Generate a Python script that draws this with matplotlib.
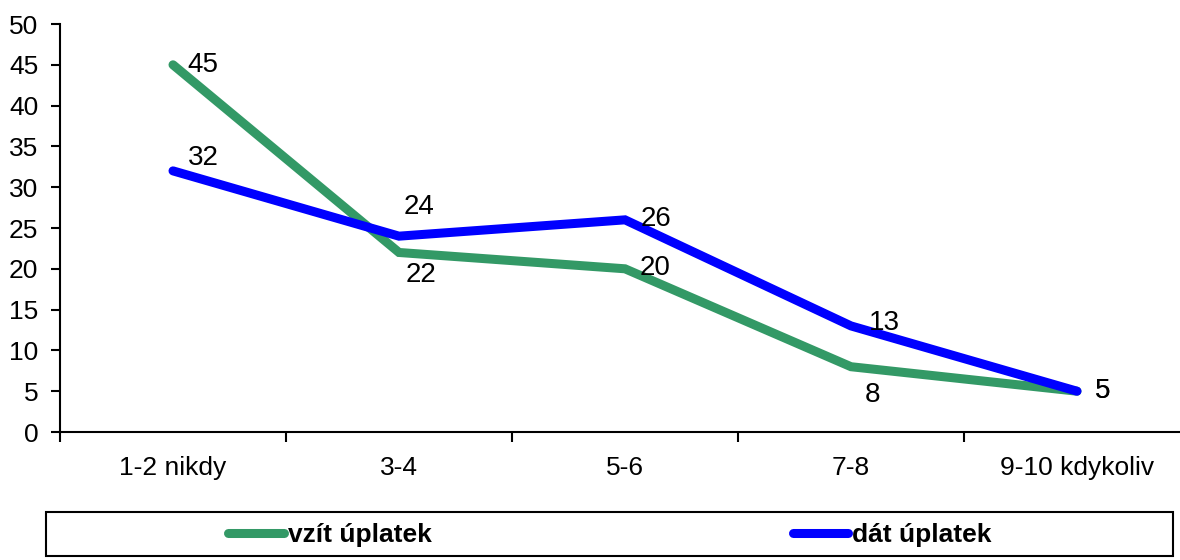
import numpy as np
import matplotlib.pyplot as plt
from matplotlib.lines import Line2D
from matplotlib.patches import Rectangle

plt.rcParams['font.family'] = ['Liberation Sans', 'DejaVu Sans']

# data
categories = ['1-2 nikdy', '3-4', '5-6', '7-8', '9-10 kdykoliv']
vzit = [45, 22, 20, 8, 5]
dat = [32, 24, 26, 13, 5]

green = '#339966'
blue = '#0000ff'

# label offsets in pixels (dx, dy)
off_vzit = [(30, 0), (22, -23), (30, 1), (21, -28), (26, 0)]
off_dat = [(30, 13), (20, 29), (31, 1), (33, 3), (26, 0)]

fig = plt.figure(figsize=(11.8, 5.6), dpi=100)
ax = fig.add_axes([60/1180, 128/560, 1130/1180, 408/560])

x = np.arange(len(categories))
ax.plot(x, vzit, color=green, lw=6.5, solid_capstyle='round', solid_joinstyle='miter')
ax.plot(x, dat, color=blue, lw=6.5, solid_capstyle='round', solid_joinstyle='miter')

for xi, v, o in zip(x, vzit, off_vzit):
    ax.annotate(str(v), (xi, v), xytext=o, textcoords='offset pixels',
                ha='center', va='center', fontsize=20)
for xi, v, o in zip(x, dat, off_dat):
    ax.annotate(str(v), (xi, v), xytext=o, textcoords='offset pixels',
                ha='center', va='center', fontsize=20)

ax.set_xlim(-0.5, len(categories) - 0.5)
ax.set_ylim(0, 50)
ax.set_yticks(np.arange(0, 51, 5))
ax.tick_params(axis='y', labelsize=19, length=6.5, width=1.5, pad=9)

ax.set_xticks(np.arange(-0.5, len(categories)))
ax.set_xticklabels([])
ax.set_xticks(x, minor=True)
ax.set_xticklabels(categories, minor=True)
ax.tick_params(axis='x', which='major', length=7, width=1.5)
ax.tick_params(axis='x', which='minor', length=0, labelsize=19, pad=17)

for s in ['top', 'right']:
    ax.spines[s].set_visible(False)
for s in ['left', 'bottom']:
    ax.spines[s].set_linewidth(1.5)

# legend box
fig.patches.append(Rectangle((46/1180, 4/560), 1127/1180, 44/560,
                             transform=fig.transFigure, fill=False,
                             edgecolor='black', lw=1.5))
handles = [Line2D([], [], color=green, lw=6.5, solid_capstyle='round'),
           Line2D([], [], color=blue, lw=6.5, solid_capstyle='round')]
fig.legend(handles, ['vzít úplatek', 'dát úplatek'], loc='center',
           bbox_to_anchor=(610/1180, 25/560), ncol=2, frameon=False,
           prop={'size': 19, 'weight': 'bold'}, handlelength=2.1,
           handletextpad=0.15, columnspacing=13.7)

fig.savefig('out.png', dpi=100)
